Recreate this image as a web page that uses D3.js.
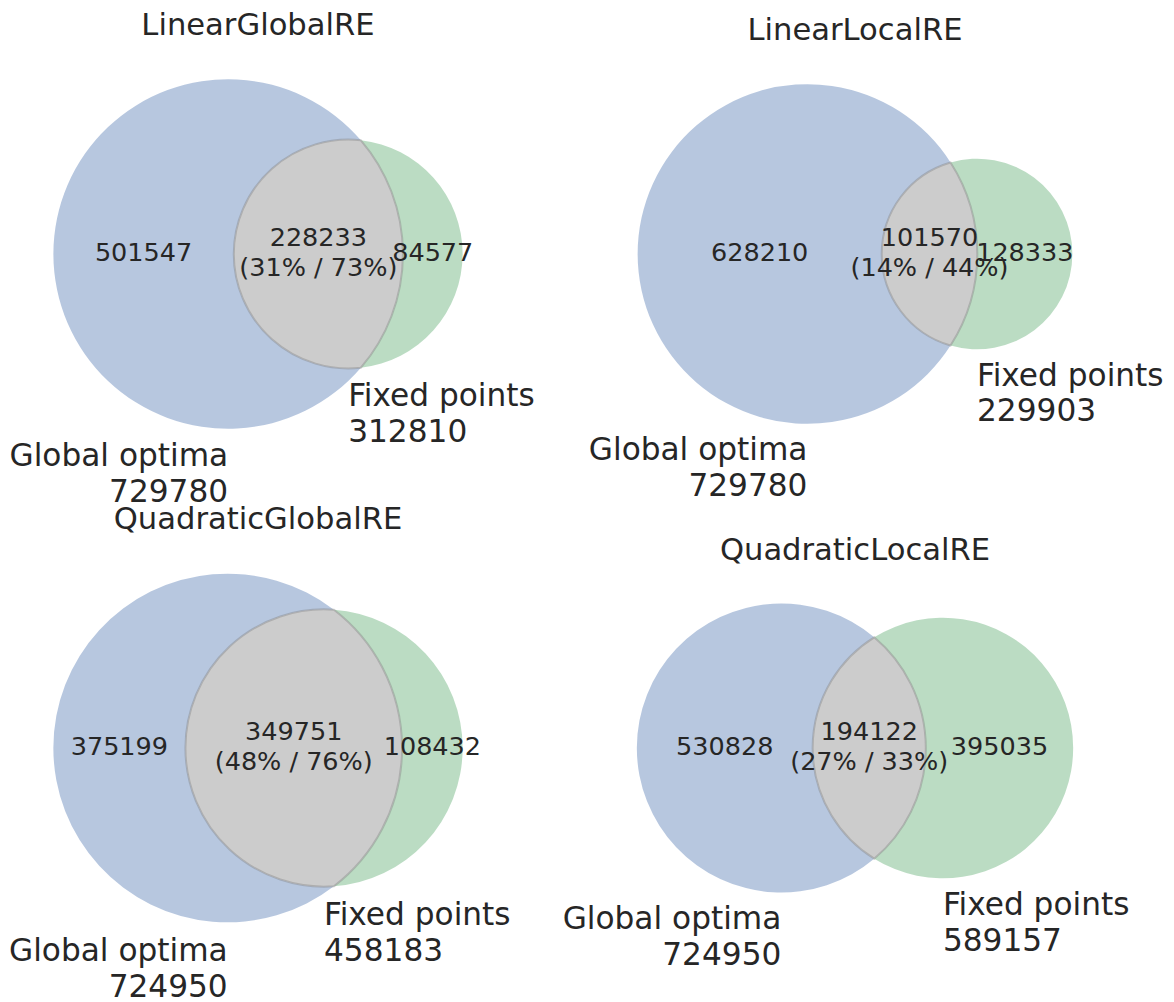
<!DOCTYPE html>
<html><head><meta charset="utf-8">
<script src="https://cdn.jsdelivr.net/npm/d3@7"></script>
<style>body{margin:0;background:#fff}</style>
</head><body>
<svg id="chart" width="1174" height="1002"></svg>
<script>
// ---- data ----
const titles = ["LinearGlobalRE", "LinearLocalRE", "QuadraticGlobalRE", "QuadraticLocalRE"];
const onlyA = [501547, 628210, 375199, 530828];   // Global optima only
const onlyB = [84577, 128333, 108432, 395035];    // Fixed points only
const both  = [228233, 101570, 349751, 194122];   // intersection
const setLabels = ["Global optima", "Fixed points"];

// ---- styling / layout ----
const colA = "#4c72b0", colB = "#55a868", colAB = "#808080";
const alpha = 0.4;
const textCol = "#262626";
const font = "DejaVu Sans, sans-serif";
const fsSmall = 25.5, fsTitle = 30.6, fsSet = 31.2;
const cellW = 500, cellH = 415;
const colX = [8, 605], rowY = [46.5, 540.5];

const svg = d3.select("#chart");
svg.append("rect").attr("width", 1174).attr("height", 1002).attr("fill", "#fff");

function lensArea(r1, r2, d) {
  if (d >= r1 + r2) return 0;
  if (d <= Math.abs(r1 - r2)) return Math.PI * Math.min(r1, r2) ** 2;
  const a1 = Math.acos((d*d + r1*r1 - r2*r2) / (2*d*r1));
  const a2 = Math.acos((d*d + r2*r2 - r1*r1) / (2*d*r2));
  return r1*r1*a1 + r2*r2*a2 - 0.5*Math.sqrt((-d+r1+r2)*(d+r1-r2)*(d-r1+r2)*(d+r1+r2));
}
function solveD(r1, r2, target) {
  let lo = Math.abs(r1 - r2) + 1e-9, hi = r1 + r2;
  for (let it = 0; it < 100; it++) {
    const mid = (lo + hi) / 2;
    if (lensArea(r1, r2, mid) > target) lo = mid; else hi = mid;
  }
  return (lo + hi) / 2;
}

titles.forEach((title, i) => {
  const A = onlyA[i] + both[i], B = onlyB[i] + both[i];
  const total = onlyA[i] + onlyB[i] + both[i];
  const rA = Math.sqrt(A / total / Math.PI);
  const rB = Math.sqrt(B / total / Math.PI);
  const d = solveD(rA, rB, both[i] / total);

  const xmin = Math.min(-rA, d - rB) - 0.1, xmax = Math.max(rA, d + rB) + 0.1;
  const ymax = Math.max(rA, rB) + 0.1, ymin = -ymax;
  const k = Math.min(cellW / (xmax - xmin), cellH / (ymax - ymin));
  const ccx = colX[i % 2] + cellW / 2, ccy = rowY[Math.floor(i / 2)] + cellH / 2;
  const hw = k * (xmax - xmin) / 2, hh = k * (ymax - ymin) / 2;
  const x = d3.scaleLinear().domain([xmin, xmax]).range([ccx - hw, ccx + hw]);
  const y = d3.scaleLinear().domain([ymin, ymax]).range([ccy + hh, ccy - hh]);

  const g = svg.append("g");
  // intersection points
  const x0 = (d*d + rA*rA - rB*rB) / (2*d);
  const h = Math.sqrt(Math.max(0, rA*rA - x0*x0));
  const P1 = [x(x0), y(h)], P2 = [x(x0), y(-h)];
  const RA = k * rA, RB = k * rB;
  const bigA_left = x0 > 0 ? 1 : 0;
  const bigB_left = (d - x0) < 0 ? 1 : 0;
  const bigB_right = x0 < d ? 1 : 0;
  const bigA_right = x0 < 0 ? 1 : 0;

  const pathA = `M${P1} A${RA},${RA} 0 ${bigA_left} 0 ${P2} A${RB},${RB} 0 ${bigB_left} 1 ${P1} Z`;
  const pathB = `M${P1} A${RB},${RB} 0 ${bigB_right} 1 ${P2} A${RA},${RA} 0 ${bigA_right} 0 ${P1} Z`;
  const pathAB = `M${P1} A${RA},${RA} 0 ${bigA_right} 1 ${P2} A${RB},${RB} 0 ${bigB_left} 1 ${P1} Z`;

  g.append("path").attr("d", pathA).attr("fill", colA).attr("fill-opacity", alpha);
  g.append("path").attr("d", pathB).attr("fill", colB).attr("fill-opacity", alpha);
  g.append("path").attr("d", pathAB).attr("fill", colAB).attr("fill-opacity", alpha)
    .attr("stroke", colAB).attr("stroke-opacity", alpha).attr("stroke-width", 2);

  // subset labels
  const cyPx = y(0);
  const subsets = [
    { x: ((-rA) + (d - rB)) / 2, lines: [String(onlyA[i])] },
    { x: ((d - rB) + rA) / 2, lines: [String(both[i]),
        `(${Math.round(both[i] / A * 100)}% / ${Math.round(both[i] / B * 100)}%)`] },
    { x: (rA + (d + rB)) / 2, lines: [String(onlyB[i])] }
  ];
  const lhS = 1.16 * fsSmall, boxS = 0.968 * fsSmall;
  subsets.forEach(s => {
    const Hh = (s.lines.length - 1) * lhS + boxS;
    const base = cyPx - Hh / 2 + 0.76 * fsSmall;
    const t = g.append("text").attr("text-anchor", "middle")
      .attr("font-family", font).attr("font-size", fsSmall).attr("fill", textCol);
    s.lines.forEach((ln, j) => t.append("tspan").attr("x", x(s.x)).attr("y", base + j * lhS).text(ln));
  });

  // set labels
  const pad = k * 0.1 * (rA + rB) / 2;
  const lhL = 1.14 * fsSet;
  const setDefs = [
    { cx: 0, r: rA, anchor: "end", lines: [setLabels[0], String(A)] },
    { cx: d, r: rB, anchor: "start", lines: [setLabels[1], String(B)] }
  ];
  setDefs.forEach(s => {
    const base = y(-s.r) + pad + 0.74 * fsSet;
    const t = g.append("text").attr("text-anchor", s.anchor)
      .attr("font-family", font).attr("font-size", fsSet).attr("fill", textCol);
    s.lines.forEach((ln, j) => t.append("tspan").attr("x", x(s.cx)).attr("y", base + j * lhL).text(ln));
  });

  // title
  g.append("text").attr("x", ccx).attr("y", ccy - hh - 11.5)
    .attr("text-anchor", "middle").attr("font-family", font).attr("font-size", fsTitle)
    .attr("fill", textCol).text(title);
});
</script>
</body></html>
